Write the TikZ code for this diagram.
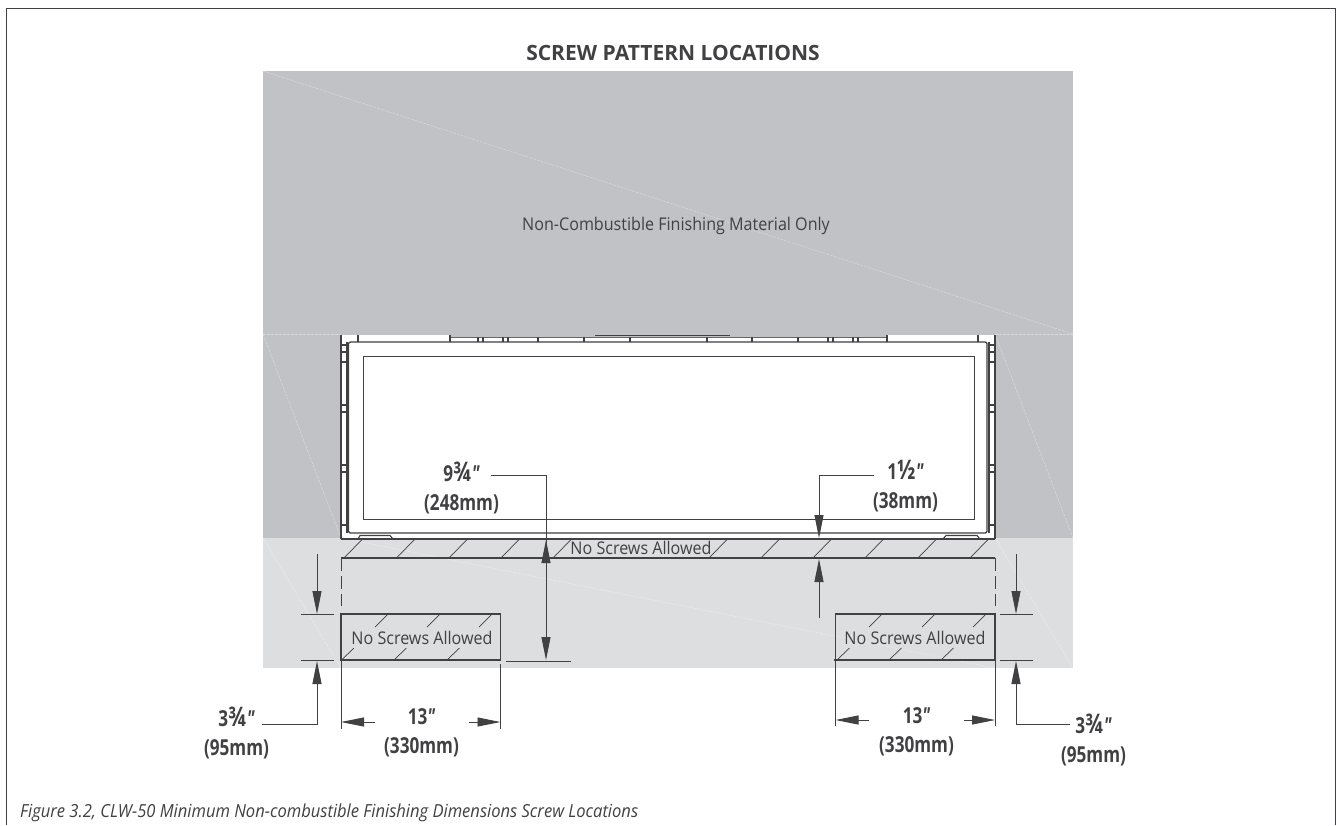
\documentclass[tikz,border=0pt]{standalone}
\usepackage{fontspec}
\usetikzlibrary{arrows.meta}
\setmainfont{Open Sans}
\newfontfamily\dimfont[FakeStretch=0.78]{Open Sans}
\newfontfamily\capfont[FakeStretch=0.92]{Open Sans}
\definecolor{wallgrey}{RGB}{192,194,197}
\definecolor{lowgrey}{RGB}{221,222,224}
\definecolor{inkgrey}{RGB}{65,64,66}
\newcommand{\bigfrac}[1]{{\fontsize{27}{29.5}\selectfont #1}}
\newcommand{\inch}{{\itshape ″}}
\tikzset{
    dimtext/.style={font=\dimfont\bfseries\fontsize{22}{29.5}\selectfont, align=center, text=inkgrey, inner sep=0pt},
    dimline/.style={draw=inkgrey, line width=0.9pt},
    dimarrow/.style={dimline, -{Triangle[length=23pt,width=9pt]}},
    plate/.style={draw=inkgrey, line width=1.1pt},
    seam/.style={draw=white, opacity=0.4, line width=0.5pt, dash pattern=on 3pt off 1pt},
    noscrew/.style={font=\capfont\fontsize{17.5}{20}\selectfont, text=inkgrey, inner sep=0pt},
}
\begin{document}
\begin{tikzpicture}[x=1pt, y=-1pt]
    \def\xl{341}
    \def\xr{995}
    \def\ybox{614}
    \def\ybot{660}
    \useasboundingbox (0,0) rectangle (1336,825);
    \fill[white] (0,0) rectangle (1336,825);
    \draw[inkgrey, line width=1pt] (6.5,825) -- (6.5,8) -- (1335,8) -- (1335,825);
    \node[font=\bfseries\fontsize{21}{24}\selectfont, text=inkgrey, inner sep=0pt] (title) at (673,53) {SCREW PATTERN LOCATIONS};
    \node[font=\capfont\itshape\fontsize{18}{20}\selectfont, text=inkgrey, anchor=west, inner sep=0pt] (caption) at (20,813) {Figure 3.2, CLW-50 Minimum Non-combustible Finishing Dimensions Screw Locations};
    \fill[wallgrey] (263,71) rectangle (1073,538);
    \fill[lowgrey] (263,538) rectangle (1073,668);
    \draw[seam] (263,71) -- (1073,334);
    \draw[seam] (263,334) -- (\xl,334);
    \draw[seam] (\xr,334) -- (1073,334);
    \draw[seam] (263,334) -- (\xl,538);
    \draw[seam] (\xr,334) -- (1073,538);
    \draw[seam] (263,538) -- (\xl,668);
    \draw[seam] (\xr,538) -- (1073,668);
    \draw[seam] (\xl,538) -- (\xr,668);
    \node[noscrew] (wallnote) at (676,226) {Non-Combustible Finishing Material Only};
    \fill[white] (\xl,335) rectangle (\xr,538);
    \fill[wallgrey] (450,335) rectangle (887,337);
    \draw[inkgrey, line width=0.8pt] (595,335.5) -- (730,335.5);
    \draw[inkgrey!80, line width=1.2pt] (450,337.5) -- (887,337.5);
    \draw[plate] (\xl,335) -- (\xl,539);
    \draw[plate] (\xr,335) -- (\xr,539);
    \draw[plate] (347,342) -- (347,533);
    \draw[plate] (989,342) -- (989,533);
    \draw[plate] (358,335) -- (358,342);
    \draw[plate] (978,335) -- (978,342);
    \draw[plate] (450,335) -- (450,342);
    \draw[plate] (887,335) -- (887,342);
    \foreach \x in {478,483,503,508,538,584,630,707,752,798,828,833,853,858}
        \draw[plate] (\x,337) -- (\x,342);
    \foreach \y in {345,352,362,405,412,465,472,525}{
        \draw[plate] (\xl,\y) -- (347,\y);
        \draw[plate] (\xr,\y) -- (989,\y);
    }
    \draw[inkgrey, line width=1.3pt, fill=white, rounded corners=2pt] (348.5,342) rectangle (987,533);
    \draw[inkgrey, line width=0.8pt] (363,356) rectangle (974,519);
    \draw[plate] (358,539) -- (360,535.5) -- (390,535.5) -- (393,539);
    \draw[plate] (943,539) -- (946,535.5) -- (977,535.5) -- (980,539);
    \draw[inkgrey, line width=1.6pt] (\xl,539) -- (\xr,539);
    \draw[plate] (\xl,558) -- (\xr,558);
    \foreach \x in {344,396.5,449,501,553,709,761,813,865,918,970}
        \draw[inkgrey, line width=0.7pt] (\x,558) -- ++(18.5,-19);
    \node[noscrew] (topnote) at (641,548) {No Screws Allowed};
    \draw[plate] (\xl,\ybox) rectangle (500.5,\ybot);
    \draw[plate] (835.5,\ybox) rectangle (\xr,\ybot);
    \draw[inkgrey, line width=1.2pt] (\xl,\ybot) -- (500.5,\ybot);
    \draw[inkgrey, line width=1.2pt] (834,\ybot) -- (\xr,\ybot);
    \foreach \x in {341.5,394,447,837,889,941}
        \draw[inkgrey, line width=0.7pt] (\x,\ybot) -- ++(12.5,-12);
    \foreach \x in {375,427,479,869,922,973}
        \draw[inkgrey, line width=0.7pt] (\x,627) -- ++(13,-13);
    \node[noscrew] (leftnote) at (422,638) {No Screws Allowed};
    \node[noscrew] (rightnote) at (915,638) {No Screws Allowed};
    \draw[inkgrey, line width=0.9pt, dash pattern=on 13pt off 5pt] (\xl,558) -- (\xl,606);
    \draw[inkgrey, line width=0.9pt, dash pattern=on 13pt off 5pt] (\xr,558) -- (\xr,606);
    \draw[dimline] (\xl,\ybot) -- (\xl,729);
    \draw[dimline] (500.5,664) -- (500.5,729);
    \draw[dimline] (835.5,\ybot) -- (835.5,726);
    \draw[dimline] (\xr,\ybot) -- (\xr,726);
    \draw[dimline] (506,661) -- (571,661);
    \foreach \xa/\xb in {301/334,1000/1033}{
        \draw[dimline] (\xa,\ybox) -- (\xb,\ybox);
        \draw[dimline] (\xa,\ybot) -- (\xb,\ybot);
    }
    \node[dimtext] (lblnine) at (461.5,488) {9\bigfrac{¾}\inch\\(248mm)};
    \node[dimtext] (lblone) at (905.5,486) {1\bigfrac{½}\inch\\(38mm)};
    \node[dimtext] (lblleft) at (236.5,733) {3\bigfrac{¾}\inch\\(95mm)};
    \node[dimtext] (lblright) at (1093.5,740) {3\bigfrac{¾}\inch\\(95mm)};
    \node[dimtext] (lblwidea) at (421.5,733) {13\inch\\(330mm)};
    \node[dimtext] (lblwideb) at (916.5,732) {13\inch\\(330mm)};
    \coordinate (leadnine) at (491,475);
    \coordinate (tipnine) at (546,660);
    \coordinate (tipnineup) at (546,540);
    \coordinate (tailnineup) at (546,570);
    \coordinate (leadone) at (874,475);
    \coordinate (tipone) at (819,538);
    \coordinate (tiponeup) at (819,559);
    \coordinate (tailoneup) at (819,618);
    \coordinate (leadleft) at (262,724);
    \coordinate (tipleft) at (317,661);
    \coordinate (tailtopl) at (317,554);
    \coordinate (tiptopl) at (317,\ybox);
    \coordinate (leadright) at (1070,724);
    \coordinate (tipright) at (1016,661);
    \coordinate (tailtopr) at (1016,554);
    \coordinate (tiptopr) at (1016,\ybox);
    \draw[dimarrow] (leadnine) -| (tipnine);
    \draw[dimarrow] (tailnineup) -- (tipnineup);
    \draw[dimarrow] (leadone) -| (tipone);
    \draw[dimarrow] (tailoneup) -- (tiponeup);
    \draw[dimarrow] (leadleft) -| (tipleft);
    \draw[dimarrow] (tailtopl) -- (tiptopl);
    \draw[dimarrow] (leadright) -| (tipright);
    \draw[dimarrow] (tailtopr) -- (tiptopr);
    \coordinate (arrowlb) at (375,722);
    \coordinate (arrowla) at (\xl,722);
    \coordinate (arrowlc) at (469,722);
    \coordinate (arrowld) at (500.5,722);
    \coordinate (arrowrb) at (869,720);
    \coordinate (arrowra) at (835.5,720);
    \coordinate (arrowrc) at (964,720);
    \coordinate (arrowrd) at (\xr,720);
    \draw[dimarrow] (arrowlb) -- (arrowla);
    \draw[dimarrow] (arrowlc) -- (arrowld);
    \draw[dimarrow] (arrowrb) -- (arrowra);
    \draw[dimarrow] (arrowrc) -- (arrowrd);
\end{tikzpicture}
\end{document}
